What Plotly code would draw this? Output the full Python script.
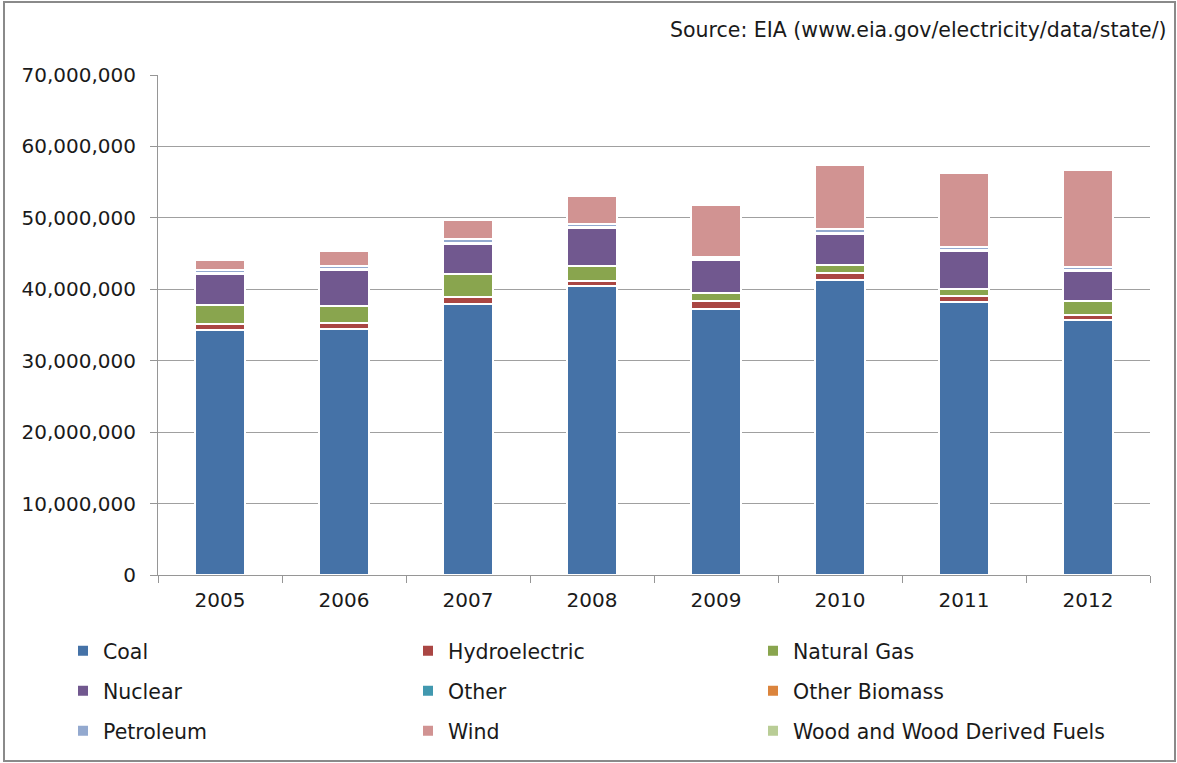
import plotly.graph_objects as go

years = ["2005", "2006", "2007", "2008", "2009", "2010", "2011", "2012"]

# net generation, MWh
coal = [34300000, 34450000, 38000000, 40450000, 37300000, 41250000, 38200000, 35650000]
hydro = [900000, 900000, 950000, 750000, 1050000, 1050000, 900000, 750000]
natural_gas = [2600000, 2350000, 3150000, 2100000, 1150000, 1150000, 1000000, 1950000]
nuclear = [4400000, 5000000, 4200000, 5300000, 4600000, 4350000, 5200000, 4200000]
other = [50000, 50000, 50000, 50000, 50000, 50000, 50000, 50000]
other_biomass = [100000, 100000, 100000, 100000, 100000, 100000, 100000, 100000]
petroleum = [350000, 350000, 600000, 400000, 250000, 450000, 450000, 450000]
wind = [1400000, 2100000, 2650000, 3850000, 7250000, 8950000, 10400000, 13550000]
wood = [30000, 30000, 30000, 30000, 30000, 30000, 30000, 30000]

series = [
    ("Coal", coal, "#4572A7", "legend"),
    ("Hydroelectric", hydro, "#AA4643", "legend"),
    ("Natural Gas", natural_gas, "#89A54E", "legend"),
    ("Nuclear", nuclear, "#71588F", "legend2"),
    ("Other", other, "#4198AF", "legend2"),
    ("Other Biomass", other_biomass, "#DB843D", "legend2"),
    ("Petroleum", petroleum, "#93A9CF", "legend3"),
    ("Wind", wind, "#D19392", "legend3"),
    ("Wood and Wood Derived Fuels", wood, "#B9CD96", "legend4"),
]

FONT = "DejaVu Sans"
TXT = "#1a1a1a"

# plot area in pixels
W, H = 1177, 763
L, R, T, B = 158, 27, 75, 188
pw, ph = W - L - R, H - T - B

def px(x):
    return (x - L) / pw

def py(y):
    return (H - B - y) / ph

fig = go.Figure()

for name, vals, color, leg in series:
    fig.add_trace(
        go.Bar(
            x=years,
            y=vals,
            name=name,
            marker=dict(color=color, line=dict(color="white", width=2)),
            legend=leg,
        )
    )

legend_style = dict(
    orientation="h",
    xanchor="left",
    yanchor="middle",
    x=px(63),
    entrywidth=300,
    font=dict(family=FONT, size=20.5, color=TXT),
    bgcolor="rgba(0,0,0,0)",
    traceorder="normal",
)
# last entry gets its own legend so the long label is not clipped
legend_last = dict(legend_style, x=px(63 + 690), y=py(731))
legend_last.pop("entrywidth")

fig.update_layout(
    width=W,
    height=H,
    barmode="stack",
    bargap=0.6,
    plot_bgcolor="white",
    paper_bgcolor="white",
    margin=dict(l=L, r=R, t=T, b=B),
    font=dict(family=FONT, size=20, color=TXT),
    legend=dict(legend_style, y=py(651)),
    legend2=dict(legend_style, y=py(691)),
    legend3=dict(legend_style, y=py(731)),
    legend4=legend_last,
    xaxis=dict(
        type="category",
        showline=True,
        linecolor="#969696",
        linewidth=1,
        ticks="outside",
        tickson="boundaries",
        ticklen=7,
        tickcolor="#969696",
        ticklabelstandoff=7,
        showgrid=False,
        tickfont=dict(family=FONT, size=20, color=TXT),
    ),
    yaxis=dict(
        range=[0, 70000000],
        dtick=10000000,
        tickformat=",",
        showline=True,
        linecolor="#969696",
        linewidth=1,
        ticks="outside",
        ticklen=7,
        tickcolor="#969696",
        ticklabelstandoff=10,
        showgrid=True,
        gridcolor="#a0a0a0",
        gridwidth=1,
        zeroline=False,
        tickfont=dict(family=FONT, size=20, color=TXT),
    ),
    annotations=[
        dict(
            text="Source: EIA (www.eia.gov/electricity/data/state/)",
            xref="paper",
            yref="paper",
            x=px(1169),
            y=py(30),
            xanchor="right",
            yanchor="middle",
            showarrow=False,
            font=dict(family=FONT, size=20.5, color=TXT),
        )
    ],
    shapes=[
        dict(
            type="rect",
            xref="paper",
            yref="paper",
            x0=px(4),
            x1=px(1175),
            y0=py(761),
            y1=py(2),
            line=dict(color="#8a8a8a", width=2),
            fillcolor="rgba(0,0,0,0)",
            layer="below",
        )
    ],
)

fig.write_html(
    "out.html",
    config={"displayModeBar": False},
    post_script="document.body.style.margin = '0';",
)
